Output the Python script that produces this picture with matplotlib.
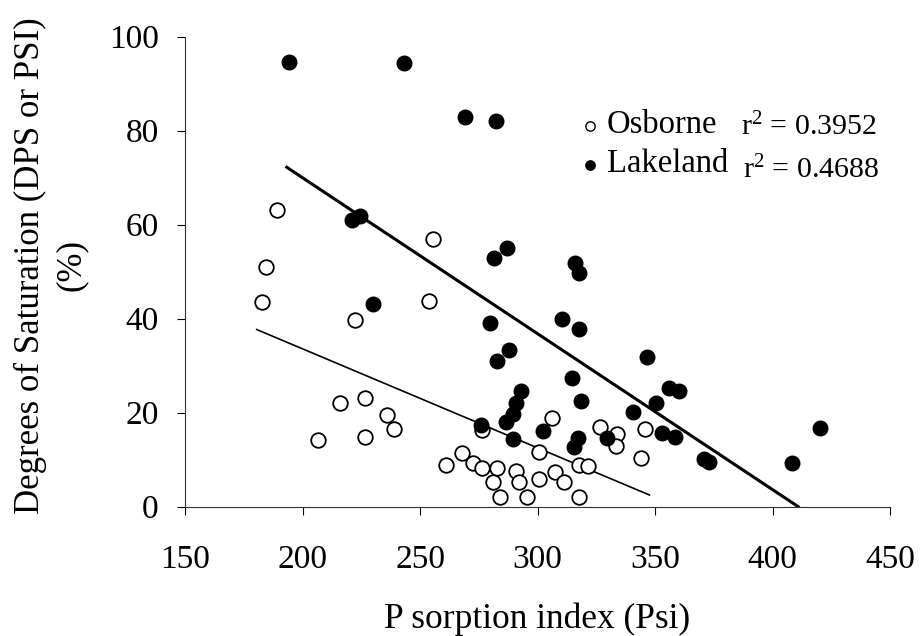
import matplotlib
matplotlib.use('Agg')
import matplotlib.pyplot as plt
import numpy as np

# Osborne soils (open circles)
osb_psi = [182.6, 184.3, 189.0, 206.5, 216.0, 222.3, 226.6, 226.6, 235.8, 238.9,
           253.8, 255.6, 261.0, 267.8, 272.6, 276.3, 276.3, 280.9, 282.7, 284.1,
           290.8, 292.2, 295.5, 300.7, 300.7, 306.2, 307.4, 311.1, 317.8, 321.4,
           317.8, 326.5, 333.9, 333.4, 344.1, 345.9]
osb_dps = [43.6, 51.0, 63.1, 14.2, 22.0, 39.7, 23.1, 14.9, 19.5, 16.5,
           43.8, 57.0, 8.8, 11.4, 9.2, 16.3, 8.2, 5.3, 8.2, 2.0,
           7.5, 5.3, 2.0, 11.7, 6.0, 18.8, 7.3, 5.2, 8.8, 8.6,
           2.1, 16.9, 15.4, 13.0, 10.4, 16.5]

# Lakeland soils (filled circles)
lak_psi = [194.3, 220.9, 224.5, 230.1, 243.3, 269.1, 275.9, 279.7, 281.6, 282.3,
           282.7, 286.6, 287.0, 288.0, 289.4, 289.4, 290.8, 293.0, 302.2, 310.4,
           314.5, 315.4, 316.1, 317.1, 317.5, 317.8, 318.5, 329.5, 340.5, 346.5,
           350.3, 352.9, 355.9, 358.7, 360.4, 370.8, 372.8, 408.4, 420.2]
lak_dps = [94.7, 61.0, 61.9, 43.2, 94.3, 83.0, 17.4, 39.1, 52.9, 82.1,
           30.9, 18.0, 55.1, 33.3, 19.7, 14.4, 22.0, 24.6, 16.1, 39.9,
           27.3, 12.8, 51.9, 14.6, 37.8, 49.8, 22.5, 14.7, 20.2, 31.8,
           22.0, 15.6, 25.2, 14.8, 24.7, 10.1, 9.6, 9.4, 16.7]

# regression lines: slope, intercept, x range
osb_fit = (-0.2107, 75.73, 180.5, 347.6)
lak_fit = (-0.3318, 136.35, 193.3, 410.9)
osb_r2 = '0.3952'
lak_r2 = '0.4688'

plt.rcParams['font.family'] = ['Liberation Serif', 'DejaVu Serif']
plt.rcParams['mathtext.fontset'] = 'custom'
plt.rcParams['mathtext.rm'] = 'Liberation Serif'
plt.rcParams['mathtext.it'] = 'Liberation Serif'

fig = plt.figure(figsize=(9.21, 6.36), dpi=100)
ax = fig.add_axes([0.2009, 0.2033, 0.7655, 0.7390])

ax.scatter(osb_psi, osb_dps, s=110, facecolors='white', edgecolors='black', linewidths=1.3, zorder=3)
ax.scatter(lak_psi, lak_dps, s=110, facecolors='black', edgecolors='black', linewidths=1.0, zorder=4)

for slope, icpt, x0, x1 in [osb_fit, lak_fit]:
    xs = np.array([x0, x1])
    lw = 1.2 if slope == osb_fit[0] else 2.2
    ax.plot(xs, slope * xs + icpt, color='black', linewidth=lw, zorder=2)

ax.set_xlim(150, 450)
ax.set_ylim(0, 100)
ax.set_xticks(np.arange(150, 451, 50))
ax.set_yticks(np.arange(0, 101, 20))
ax.tick_params(labelsize=24, direction='out', length=6, width=0.8)
ax.tick_params(axis='x', pad=21)
ax.tick_params(axis='y', pad=13)
for side in ['top', 'right']:
    ax.spines[side].set_visible(False)
for side in ['left', 'bottom']:
    ax.spines[side].set_linewidth(0.8)
    ax.spines[side].set_color('#333333')

ax.set_xlabel('P sorption index (Psi)', fontsize=25.5, labelpad=20)
fig.text(0.055, 0.583, 'Degrees of Saturation (DPS or PSI)\n(%)', rotation=90,
         ha='center', va='center', fontsize=25, multialignment='center', linespacing=1.3)

# key
ax.scatter([0.574], [0.810], s=45, facecolors='white', edgecolors='black', linewidths=1.0,
           transform=ax.transAxes, clip_on=False)
ax.scatter([0.574], [0.727], s=45, facecolors='black', edgecolors='black',
           transform=ax.transAxes, clip_on=False)
ax.text(0.598, 0.812, 'Osborne', fontsize=23.5, va='center', transform=ax.transAxes)
ax.text(0.598, 0.729, 'Lakeland', fontsize=23.5, va='center', transform=ax.transAxes)
ax.text(0.788, 0.808, 'r$^2$ = ' + osb_r2, fontsize=21.5, va='center', transform=ax.transAxes)
ax.text(0.791, 0.716, 'r$^2$ = ' + lak_r2, fontsize=21.5, va='center', transform=ax.transAxes)

fig.savefig('out.png', dpi=100)
plt.close()
